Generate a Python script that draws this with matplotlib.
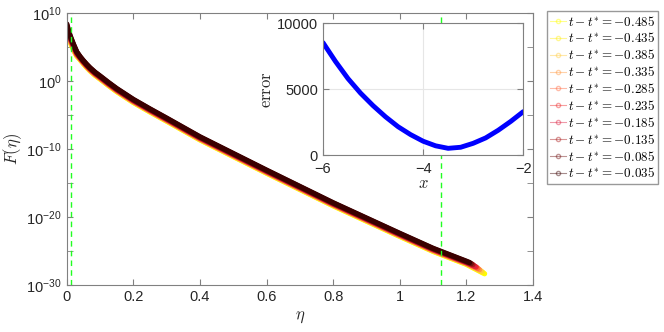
import numpy as np
import matplotlib
matplotlib.use('Agg')
import matplotlib.pyplot as plt
from matplotlib.lines import Line2D
from matplotlib.ticker import FixedLocator, FuncFormatter, NullFormatter

plt.rcParams['font.family'] = ['Liberation Sans', 'DejaVu Sans']
plt.rcParams['mathtext.fontset'] = 'cm'

# data
dt = [-0.485, -0.435, -0.385, -0.335, -0.285, -0.235, -0.185, -0.135, -0.085, -0.035]
colors = ['#ffff00', '#ffee10', '#ffcc40', '#ff9940', '#ff6a40',
          '#ee2a2a', '#dd2040', '#aa1818', '#701010', '#3a0000']

eta = [0, 0.005, 0.01, 0.02, 0.03, 0.04, 0.05, 0.06, 0.07, 0.085, 0.1, 0.125,
       0.15, 0.175, 0.2, 0.25, 0.3, 0.4, 0.6, 0.8, 1.0, 1.1, 1.2]
eta_end = [1.255, 1.25, 1.245, 1.24, 1.235, 1.23, 1.225, 1.22, 1.215, 1.21]
logF_end = [-28.35, -28.15, -27.95, -27.75, -27.55, -27.35, -27.2, -27.0, -26.85, -26.7]

logF = [
    [6.8, 6.3, 5.8, 4.6, 3.7, 3.15, 2.55, 2.0, 1.5, 0.85, 0.3, -0.65, -1.55, -2.35, -3.15, -4.55, -5.9, -8.65, -13.55, -18.35, -22.85, -25.05, -26.95],
    [7.0, 6.5, 5.9, 4.7, 3.75, 3.2, 2.6, 2.05, 1.55, 0.9, 0.35, -0.6, -1.5, -2.3, -3.1, -4.5, -5.85, -8.6, -13.5, -18.3, -22.8, -25.0, -26.9],
    [7.2, 6.6, 6.0, 4.8, 3.8, 3.25, 2.65, 2.1, 1.6, 0.95, 0.4, -0.55, -1.45, -2.25, -3.05, -4.45, -5.8, -8.55, -13.45, -18.25, -22.75, -24.95, -26.85],
    [7.4, 6.8, 6.1, 4.9, 3.9, 3.3, 2.7, 2.15, 1.65, 1.0, 0.45, -0.5, -1.4, -2.2, -3.0, -4.4, -5.75, -8.5, -13.4, -18.2, -22.7, -24.9, -26.8],
    [7.6, 6.9, 6.2, 5.0, 3.95, 3.35, 2.75, 2.2, 1.7, 1.05, 0.5, -0.45, -1.35, -2.15, -2.95, -4.35, -5.7, -8.45, -13.35, -18.15, -22.65, -24.85, -26.75],
    [7.8, 7.1, 6.3, 5.1, 4.0, 3.4, 2.8, 2.25, 1.75, 1.1, 0.55, -0.4, -1.3, -2.1, -2.9, -4.3, -5.65, -8.4, -13.3, -18.1, -22.6, -24.8, -26.7],
    [8.0, 7.2, 6.4, 5.2, 4.1, 3.45, 2.85, 2.3, 1.8, 1.15, 0.6, -0.35, -1.25, -2.05, -2.85, -4.25, -5.6, -8.35, -13.25, -18.05, -22.55, -24.75, -26.65],
    [8.1, 7.3, 6.5, 5.3, 4.2, 3.5, 2.9, 2.35, 1.85, 1.2, 0.65, -0.3, -1.2, -2.0, -2.8, -4.2, -5.55, -8.3, -13.2, -18.0, -22.5, -24.7, -26.6],
    [8.3, 7.4, 6.6, 5.35, 4.25, 3.55, 2.95, 2.4, 1.9, 1.25, 0.7, -0.25, -1.15, -1.95, -2.75, -4.15, -5.5, -8.25, -13.15, -17.95, -22.45, -24.65, -26.55],
    [8.4, 7.5, 6.7, 5.45, 4.3, 3.6, 3.0, 2.45, 1.95, 1.3, 0.75, -0.2, -1.1, -1.9, -2.7, -4.1, -5.45, -8.2, -13.1, -17.9, -22.4, -24.6, -26.5],
]
eta_star = [0.012, 1.125]

x_err = [-6, -5.75, -5.5, -5.25, -5, -4.75, -4.5, -4.25, -4, -3.75, -3.5,
         -3.25, -3, -2.75, -2.5, -2.25, -2]
err = [8530, 7100, 5800, 4700, 3750, 2900, 2150, 1550, 1050, 700, 510,
       590, 890, 1300, 1880, 2550, 3290]

gray = '#262626'
axc = '#808080'

fig = plt.figure(figsize=(6.64, 3.32), dpi=100)
ax = fig.add_axes([0.1005, 0.1416, 0.702, 0.819])

for k in range(len(dt)):
    xs = eta + [eta_end[k]]
    ys = 10.0 ** np.array(logF[k] + [logF_end[k]])
    ax.semilogy(xs, ys, color=colors[k], lw=3.8, solid_capstyle='round',
                solid_joinstyle='round')

for e in eta_star:
    ax.axvline(e, color='#22ff22', lw=1.0, ls=(0, (4, 3)))

ax.set_xlim(0, 1.4)
ax.set_ylim(1e-30, 1e10)
ax.xaxis.set_major_locator(FixedLocator([0, 0.2, 0.4, 0.6, 0.8, 1.0, 1.2, 1.4]))
ax.xaxis.set_major_formatter(FuncFormatter(lambda v, p: '%g' % v))
ax.yaxis.set_major_locator(FixedLocator([10.0 ** p for p in range(-30, 11, 10)]))
ax.yaxis.set_minor_locator(FixedLocator([10.0 ** p for p in range(-25, 10, 10)]))
ax.yaxis.set_major_formatter(FuncFormatter(lambda v, p: r'$\mathdefault{10^{%d}}$' % round(np.log10(v))))
ax.yaxis.set_minor_formatter(NullFormatter())
ax.tick_params(which='both', direction='in', top=True, right=True,
               color=axc, labelcolor=gray, labelsize=10.5, length=4)
for s in ax.spines.values():
    s.set_color(axc)
ax.set_xlabel(r'$\eta$', fontsize=12, color=gray, labelpad=4)
ax.set_ylabel(r'$F(\eta)$', fontsize=12, color=gray, labelpad=2)

handles = [Line2D([], [], color=colors[k], lw=0.8, marker='o', ms=3, mfc='none',
                  alpha=0.45) for k in range(len(dt))]
labels = [r'$t - t^{*} = %.3f$' % v for v in dt]
fig.legend(handles, labels, loc='upper left', bbox_to_anchor=(0.8238, 0.966),
           fontsize=9.4, frameon=True, fancybox=False, edgecolor=axc,
           handlelength=1.2, handletextpad=0.15, labelspacing=0.22,
           borderpad=0.25, borderaxespad=0)

ins = fig.add_axes([0.4864, 0.533, 0.3016, 0.397])
ins.plot(x_err, err, color='#0000ff', lw=3.5, solid_capstyle='round')
ins.set_xlim(-6, -2)
ins.set_ylim(0, 10000)
ins.set_xticks([-6, -4, -2])
ins.set_yticks([0, 5000, 10000])
ins.grid(True, color='#e6e6e6', lw=0.8)
ins.tick_params(direction='in', top=True, right=True, color=axc,
                labelcolor=gray, labelsize=10.5, length=4)
ins.tick_params(axis='x', pad=5)
for s in ins.spines.values():
    s.set_color(axc)
ins.set_xlabel(r'$x$', fontsize=12, color=gray, labelpad=0)
ins.set_ylabel(r'$\mathrm{error}$', fontsize=12, color=gray, labelpad=2)

fig.savefig('out.png', dpi=100)
